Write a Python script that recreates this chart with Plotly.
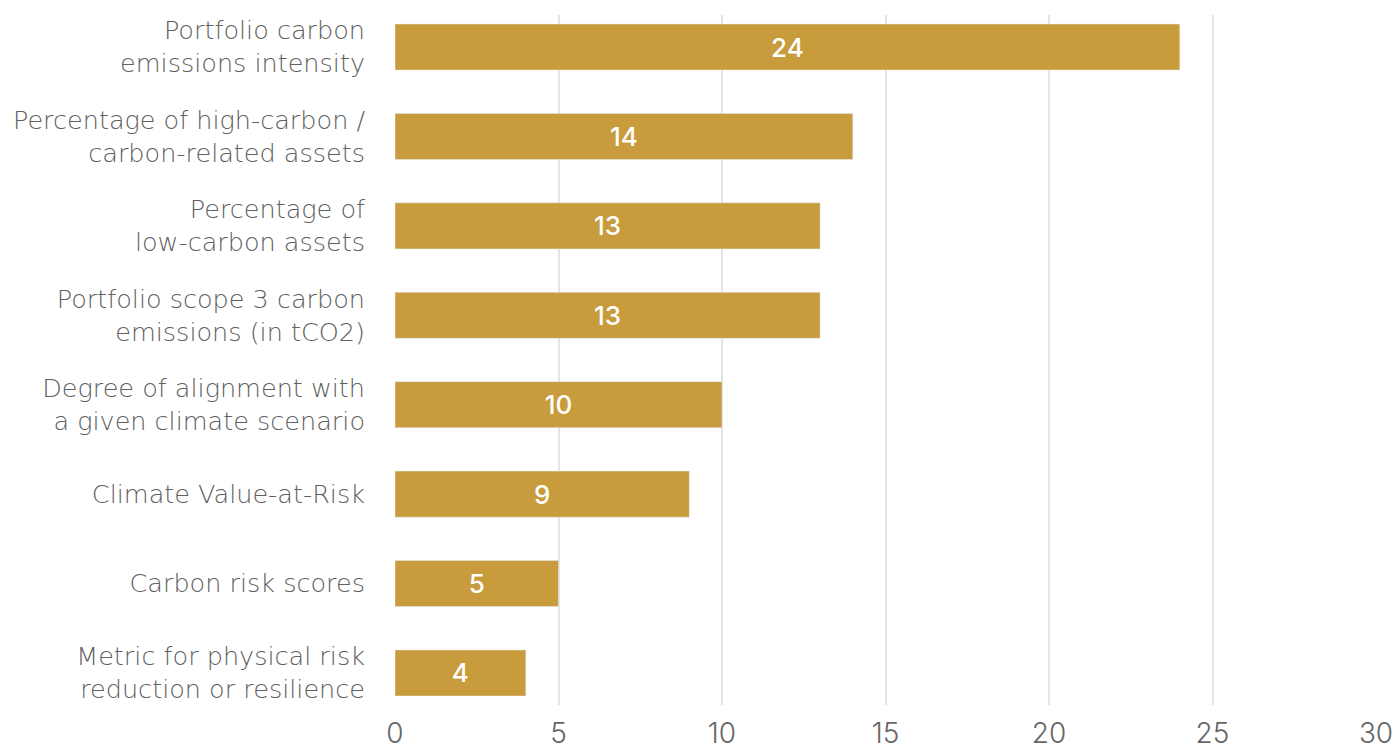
import plotly.graph_objects as go

categories = [
    "Portfolio carbon<br>emissions intensity",
    "Percentage of high-carbon /<br>carbon-related assets",
    "Percentage of<br>low-carbon assets",
    "Portfolio scope 3 carbon<br>emissions (in tCO2)",
    "Degree of alignment with<br>a given climate scenario",
    "Climate Value-at-Risk",
    "Carbon risk scores",
    "Metric for physical risk<br>reduction or resilience",
]
values = [24, 14, 13, 13, 10, 9, 5, 4]
x_ticks = [0, 5, 10, 15, 20, 25, 30]

FONT = "DejaVu Sans"

fig = go.Figure(go.Bar(
    y=categories,
    x=values,
    orientation="h",
    marker=dict(color="#C89B3C"),
    text=[str(v) for v in values],
    textposition="inside",
    insidetextanchor="middle",
    textfont=dict(family="Inter", size=26, color="white", weight=500),
    width=0.515,
    hoverinfo="skip",
))

fig.update_layout(
    width=1395, height=744,
    margin=dict(l=395, r=19, t=15, b=39, autoexpand=False),
    paper_bgcolor="white", plot_bgcolor="white",
    showlegend=False,
    font=dict(family=FONT, color="#666666"),
)
fig.update_xaxes(
    range=[0, 30], tickvals=x_ticks, ticktext=[str(t) for t in x_ticks],
    showgrid=True, gridcolor="#E4E4E8", gridwidth=2,
    zeroline=False, showline=False, automargin=False,
    tickfont=dict(family="Inter", size=28, color="#666666", weight=300),
    ticks="", ticklabelstandoff=9,
)
fig.update_yaxes(
    type="category", categoryorder="array", categoryarray=categories,
    range=[7.358, -0.358],
    showgrid=False, zeroline=False, showline=False, automargin=False,
    tickfont=dict(family=FONT, size=25.5, color="#606060", weight=300),
    ticks="", ticklabelstandoff=29,
)

fig.write_html(
    "out.html",
    config={"displayModeBar": False},
    post_script="document.body.style.margin='0';document.body.style.overflow='hidden';",
)
